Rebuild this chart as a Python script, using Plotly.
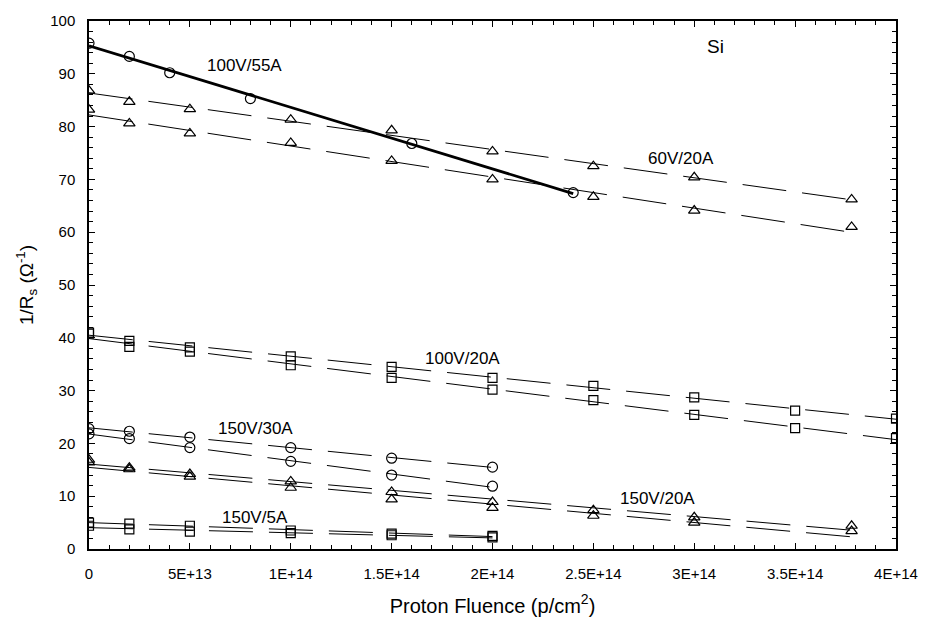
import numpy as np
import plotly.graph_objects as go

# ---------------- data ----------------
# 100V/55A (circles, solid fit)
x_100v55a = [0, 2e13, 4e13, 8e13, 1.6e14, 2.4e14]
y_100v55a = [95.8, 93.3, 90.2, 85.3, 76.8, 67.5]

# 60V/20A (triangles, two samples)
x_60v20a = [0, 2e13, 5e13, 1e14, 1.5e14, 2e14, 2.5e14, 3e14, 3.78e14]
y_60v20a_a = [86.8, 84.7, 83.3, 81.3, 79.3, 75.3, 72.5, 70.4, 66.2]
y_60v20a_b = [83.2, 80.6, 78.7, 76.9, 73.5, 70.0, 66.7, 64.1, 61.0]

# 100V/20A (squares, two samples)
x_100v20a = [0, 2e13, 5e13, 1e14, 1.5e14, 2e14, 2.5e14, 3e14, 3.5e14, 4e14]
y_100v20a_a = [41.0, 39.4, 38.2, 36.5, 34.5, 32.4, 30.9, 28.7, 26.2, 24.7]
y_100v20a_b = [40.8, 38.3, 37.4, 34.8, 32.4, 30.2, 28.2, 25.4, 22.9, 21.0]

# 150V/30A (circles, two samples)
x_150v30a = [0, 2e13, 5e13, 1e14, 1.5e14, 2e14]
y_150v30a_a = [22.8, 22.3, 21.2, 19.2, 17.2, 15.5]
y_150v30a_b = [21.8, 20.9, 19.2, 16.6, 14.0, 11.9]

# 150V/20A (triangles, two samples)
x_150v20a = [0, 2e13, 5e13, 1e14, 1.5e14, 2e14, 2.5e14, 3e14, 3.78e14]
y_150v20a_a = [16.9, 15.4, 14.2, 12.8, 10.8, 8.9, 7.35, 6.0, 4.4]
y_150v20a_b = [16.4, 15.1, 13.7, 11.6, 9.4, 7.8, 6.3, 5.0, 3.4]

# 150V/5A (squares, two samples)
x_150v5a = [0, 2e13, 5e13, 1e14, 1.5e14, 2e14]
y_150v5a_a = [5.0, 4.8, 4.4, 3.5, 2.9, 2.5]
y_150v5a_b = [4.4, 3.7, 3.3, 3.0, 2.6, 2.2]

# labels
label_text = ["100V/55A", "60V/20A", "100V/20A", "150V/30A", "150V/5A", "150V/20A", "Si"]
label_x = [0.77e14, 2.934e14, 1.85e14, 0.824e14, 0.821e14, 2.818e14, 3.105e14]
label_y = [91.6, 73.9, 36.1, 22.9, 6.06, 9.6, 95.2]

x_tickvals = [0, 5e13, 1e14, 1.5e14, 2e14, 2.5e14, 3e14, 3.5e14, 4e14]
x_ticktext = ["0", "5E+13", "1E+14", "1.5E+14", "2E+14", "2.5E+14", "3E+14", "3.5E+14", "4E+14"]
y_tickvals = [0, 10, 20, 30, 40, 50, 60, 70, 80, 90, 100]

FONT = "Liberation Sans, Arial, sans-serif"

series = [
    (x_100v55a, y_100v55a, "circle-open", 10, "solid", 2.8),
    (x_60v20a, y_60v20a_a, "triangle-up-open", 10, "44px,16px", 1),
    (x_60v20a, y_60v20a_b, "triangle-up-open", 10, "44px,16px", 1),
    (x_100v20a, y_100v20a_a, "square-open", 9, "44px,16px", 1),
    (x_100v20a, y_100v20a_b, "square-open", 9, "44px,16px", 1),
    (x_150v30a, y_150v30a_a, "circle-open", 10, "44px,16px", 1),
    (x_150v30a, y_150v30a_b, "circle-open", 10, "44px,16px", 1),
    (x_150v20a, y_150v20a_a, "triangle-up-open", 10, "44px,16px", 1),
    (x_150v20a, y_150v20a_b, "triangle-up-open", 10, "44px,16px", 1),
    (x_150v5a, y_150v5a_a, "square-open", 9, "44px,16px", 1),
    (x_150v5a, y_150v5a_b, "square-open", 9, "44px,16px", 1),
]

fig = go.Figure()

# linear fit lines
for xs, ys, sym, size, dash, lw in series:
    xa = np.array(xs, dtype=float)
    ya = np.array(ys, dtype=float)
    slope, icpt = np.polyfit(xa, ya, 1)
    xf = np.array([xa.min(), xa.max()])
    fig.add_trace(go.Scatter(
        x=xf, y=icpt + slope * xf, mode="lines",
        line=dict(color="black", width=lw, dash=dash),
        showlegend=False, hoverinfo="skip"))

# markers
for xs, ys, sym, size, dash, lw in series:
    fig.add_trace(go.Scatter(
        x=xs, y=ys, mode="markers",
        marker=dict(symbol=sym, size=size, color="black",
                    line=dict(color="black", width=1.2)),
        showlegend=False))

for t, lx, ly in zip(label_text, label_x, label_y):
    fig.add_annotation(x=lx, y=ly, text=t, showarrow=False,
                       xanchor="center", yanchor="middle",
                       font=dict(family=FONT, size=19 if t == "Si" else 17, color="black"))

fig.update_layout(
    width=930, height=626,
    margin=dict(l=89, r=28, t=16, b=73),
    paper_bgcolor="white", plot_bgcolor="white",
    font=dict(family=FONT, color="black"),
    showlegend=False,
)

fig.update_xaxes(
    range=[0, 4e14], showgrid=False, zeroline=False,
    showline=True, linecolor="black", linewidth=1.5, mirror="allticks",
    ticks="inside", ticklen=6, tickwidth=1.2, tickcolor="black",
    tickvals=x_tickvals, ticktext=x_ticktext,
    tickfont=dict(family=FONT, size=15, color="black"),
    ticklabelstandoff=10,
    minor=dict(dtick=1e13, tick0=0, ticks="inside", ticklen=4, tickwidth=1.2, tickcolor="black", showgrid=False),
    title=dict(text="Proton Fluence (p/cm<sup>2</sup>)", font=dict(family=FONT, size=20, color="black"), standoff=18),
)
fig.update_yaxes(
    range=[0, 100], showgrid=False, zeroline=False,
    showline=True, linecolor="black", linewidth=1.5, mirror="allticks",
    ticks="inside", ticklen=6, tickwidth=1.2, tickcolor="black",
    tickvals=y_tickvals,
    tickfont=dict(family=FONT, size=15, color="black"),
    ticklabelstandoff=9,
    minor=dict(dtick=2, tick0=0, ticks="inside", ticklen=4, tickwidth=1.2, tickcolor="black", showgrid=False),
    title=dict(text="1/R<sub>s</sub> (Ω<sup>-1</sup>)", font=dict(family=FONT, size=19, color="black"), standoff=12),
)

fig.write_html("out.html", config={"displayModeBar": False},
               post_script="document.body.style.margin='0';document.body.style.padding='0';")
